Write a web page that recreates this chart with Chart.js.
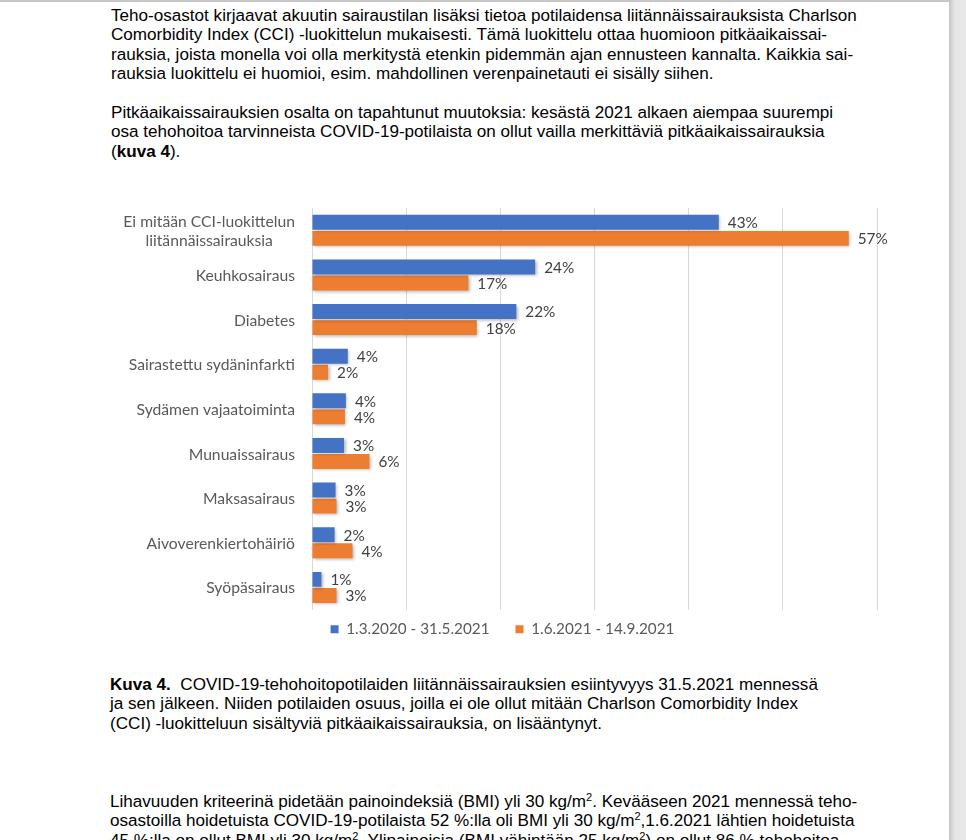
<!DOCTYPE html>
<html lang="fi">
<head>
<meta charset="utf-8">
<script src="https://cdn.jsdelivr.net/npm/chart.js@4"></script>
<style>
  html, body { margin: 0; padding: 0; background: #ffffff; }
  body { width: 966px; height: 840px; overflow: hidden; position: relative; font-family: "Liberation Sans", Arial, sans-serif; color: #000; }
  .strip { position: absolute; left: 949px; top: 0; width: 17px; height: 840px; background: linear-gradient(to right, #c4c4c4 0px, #d6d6d6 3px, #e6e6e6 6px, #e8e8e8 17px); }
  .topline { position: absolute; left: 0; top: 0; width: 949px; height: 2px; background: #c8c8c8; }
  .ln { position: absolute; left: 111px; white-space: nowrap; font-size: 17.1px; line-height: 19.4px; }
  sup { font-size: 11px; line-height: 0; vertical-align: 6px; }
  #wrap { position: absolute; left: 100px; top: 190px; width: 805px; height: 475px; }
</style>
</head>
<body>
<div class="topline"></div>
<div class="strip"></div>

<div class="ln" style="top:6px">Teho-osastot kirjaavat akuutin sairaustilan lisäksi tietoa potilaidensa liitännäissairauksista Charlson</div>
<div class="ln" style="top:25.4px">Comorbidity Index (CCI) -luokittelun mukaisesti. Tämä luokittelu ottaa huomioon pitkäaikaissai-</div>
<div class="ln" style="top:44.8px">rauksia, joista monella voi olla merkitystä etenkin pidemmän ajan ennusteen kannalta. Kaikkia sai-</div>
<div class="ln" style="top:64.2px">rauksia luokittelu ei huomioi, esim. mahdollinen verenpainetauti ei sisälly siihen.</div>

<div class="ln" style="top:103px">Pitkäaikaissairauksien osalta on tapahtunut muutoksia: kesästä 2021 alkaen aiempaa suurempi</div>
<div class="ln" style="top:122.4px">osa tehohoitoa tarvinneista COVID-19-potilaista on ollut vailla merkittäviä pitkäaikaissairauksia</div>
<div class="ln" style="top:141.8px">(<b>kuva 4</b>).</div>

<div id="wrap"><canvas id="c"></canvas></div>

<div class="ln" style="top:675px;left:110px"><b>Kuva 4.</b>&nbsp; COVID-19-tehohoitopotilaiden liitännäissairauksien esiintyvyys 31.5.2021 mennessä</div>
<div class="ln" style="top:694.4px;left:110px">ja sen jälkeen. Niiden potilaiden osuus, joilla ei ole ollut mitään Charlson Comorbidity Index</div>
<div class="ln" style="top:713.8px;left:110px">(CCI) -luokitteluun sisältyviä pitkäaikaissairauksia, on lisääntynyt.</div>

<div class="ln" style="top:792px;left:110px">Lihavuuden kriteerinä pidetään painoindeksiä (BMI) yli 30 kg/m<sup>2</sup>. Kevääseen 2021 mennessä teho-</div>
<div class="ln" style="top:811.4px;left:110px">osastoilla hoidetuista COVID-19-potilaista 52 %:lla oli BMI yli 30 kg/m<sup>2</sup>,1.6.2021 lähtien hoidetuista</div>
<div class="ln" style="top:830.8px;left:110px">45 %:lla on ollut BMI yli 30 kg/m<sup>2</sup>. Ylipainoisia (BMI vähintään 25 kg/m<sup>2</sup>) on ollut 86 % tehohoitoa</div>

<script>
// ---- data ----
const categories = [
  ["Ei mitään CCI-luokittelun", "liitännäissairauksia"],
  "Keuhkosairaus",
  "Diabetes",
  "Sairastettu sydäninfarkti",
  "Sydämen vajaatoiminta",
  "Munuaissairaus",
  "Maksasairaus",
  "Aivoverenkiertohäiriö",
  "Syöpäsairaus"
];
const seriesNames = ["1.3.2020 - 31.5.2021", "1.6.2021 - 14.9.2021"];
const valuesPeriod1 = [43.2, 23.7, 21.7, 3.8, 3.6, 3.4, 2.5, 2.4, 1.0];
const valuesPeriod2 = [57.0, 16.6, 17.5, 1.7, 3.5, 6.1, 2.6, 4.3, 2.6];
const labelsPeriod1 = ["43%", "24%", "22%", "4%", "4%", "3%", "3%", "2%", "1%"];
const labelsPeriod2 = ["57%", "17%", "18%", "2%", "4%", "6%", "3%", "4%", "3%"];
const xTicks = [0, 10, 20, 30, 40, 50, 60];

const chartFont = "Lato, 'Open Sans', sans-serif";
const valueLabels = [labelsPeriod1, labelsPeriod2];

const shadowPlugin = {
  id: 'barShadow',
  beforeDatasetsDraw(chart) {
    const ctx = chart.ctx;
    ctx.save();
    ctx.shadowColor = 'rgba(0,0,0,0.28)';
    ctx.shadowBlur = 3;
    ctx.shadowOffsetX = 1.5;
    ctx.shadowOffsetY = 1.5;
  },
  afterDatasetsDraw(chart) {
    chart.ctx.restore();
  }
};

const valueLabelPlugin = {
  id: 'valueLabels',
  afterDraw(chart) {
    const ctx = chart.ctx;
    ctx.save();
    ctx.font = "15.3px " + chartFont;
    ctx.fillStyle = '#404040';
    ctx.textAlign = 'left';
    ctx.textBaseline = 'middle';
    chart.data.datasets.forEach((ds, di) => {
      const meta = chart.getDatasetMeta(di);
      meta.data.forEach((bar, i) => {
        ctx.fillText(valueLabels[di][i], bar.x + 9, bar.y + 1);
      });
    });
    ctx.restore();
  }
};

const categoryLabelPlugin = {
  id: 'categoryLabels',
  afterDraw(chart) {
    const ctx = chart.ctx;
    const y = chart.scales.y;
    const rightEdge = chart.chartArea.left - 17;
    const lineH = 19;
    ctx.save();
    ctx.font = "15.7px " + chartFont;
    ctx.fillStyle = '#595959';
    ctx.textAlign = 'center';
    ctx.textBaseline = 'middle';
    categories.forEach((cat, i) => {
      const lines = Array.isArray(cat) ? cat : [cat];
      const w = Math.max(...lines.map(l => ctx.measureText(l).width));
      const cx = rightEdge - w / 2;
      const cy = y.getPixelForTick(i) + 1;
      lines.forEach((l, k) => {
        ctx.fillText(l, cx, cy + (k - (lines.length - 1) / 2) * lineH);
      });
    });
    ctx.restore();
  }
};

new Chart(document.getElementById('c'), {
  type: 'bar',
  data: {
    labels: categories,
    datasets: [
      { label: seriesNames[0], data: valuesPeriod1, backgroundColor: '#4472C4', categoryPercentage: 0.72, barPercentage: 0.93 },
      { label: seriesNames[1], data: valuesPeriod2, backgroundColor: '#ED7D31', categoryPercentage: 0.72, barPercentage: 0.93 }
    ]
  },
  options: {
    indexAxis: 'y',
    responsive: true,
    maintainAspectRatio: false,
    animation: false,
    layout: { padding: { left: 28, right: 28, top: 18, bottom: 4 } },
    scales: {
      x: {
        min: xTicks[0],
        max: xTicks[xTicks.length - 1],
        afterBuildTicks(scale) { scale.ticks = xTicks.map(v => ({ value: v })); },
        afterFit(scale) { scale.height = scale.height - 14; },
        ticks: { display: false },
        grid: { color: '#d9d9d9', lineWidth: 1, drawTicks: false },
        border: { display: false }
      },
      y: {
        ticks: { display: false },
        grid: { display: false, drawTicks: false },
        border: { display: false },
        afterFit(scale) { scale.width = 184; }
      }
    },
    plugins: {
      legend: {
        position: 'bottom',
        labels: {
          boxWidth: 8,
          boxHeight: 8,
          padding: 26,
          color: '#595959',
          font: { family: chartFont, size: 15.3 }
        }
      },
      tooltip: { enabled: false }
    }
  },
  plugins: [shadowPlugin, valueLabelPlugin, categoryLabelPlugin]
});
</script>
</body>
</html>
